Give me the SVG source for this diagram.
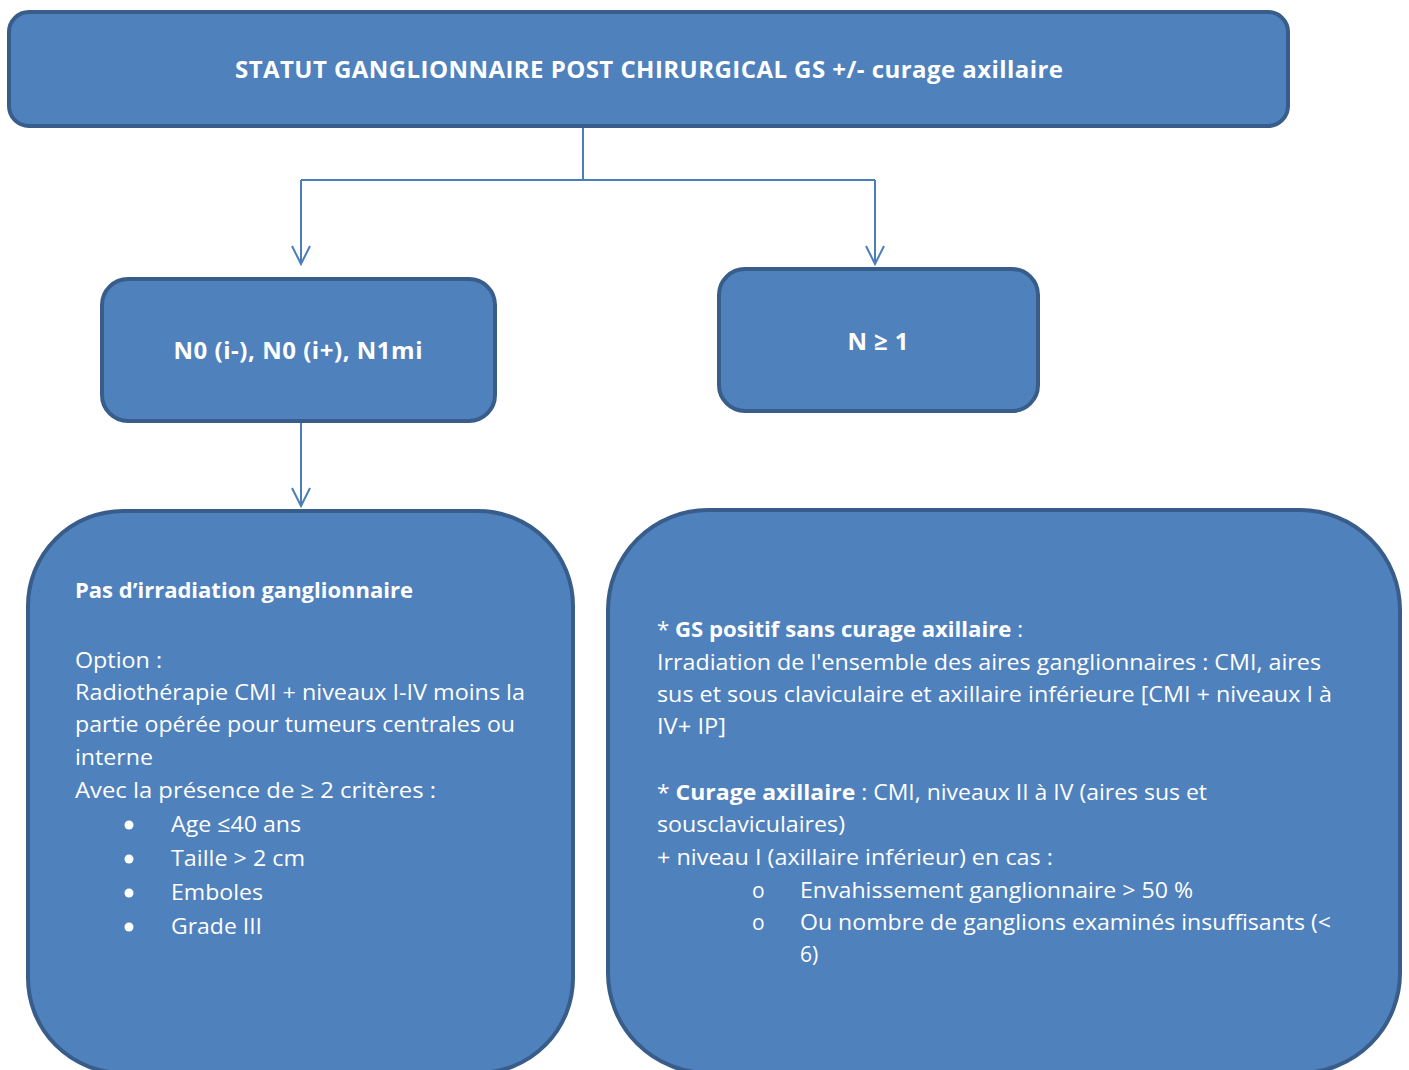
<svg xmlns="http://www.w3.org/2000/svg" width="1409" height="1070" viewBox="0 0 1409 1070">
<defs>
<style>
.box{fill:#4F81BD;stroke:#385D8A;stroke-width:4}
.t{font-family:"Open Sans","Liberation Sans",sans-serif;fill:#FFFFFF}
.b{font-weight:bold}
.c{font-size:24px;font-weight:bold;text-anchor:middle}
.l{font-size:22.5px}
.r{font-size:21px}
.con{fill:none;stroke:#4A7EBB;stroke-width:2}
</style>
</defs>
<rect width="1409" height="1070" fill="#FFFFFF"/>
<g id="connectors">
<path class="con" d="M583,127 V180 M301,180 H875 M301,180 V264 M875,180 V264 M301,422 V506"/>
<path class="con" d="M292,246 L301,264 L310,246 M866,246 L875,264 L884,246 M292,488 L301,506 L310,488"/>
</g>
<g id="node-top">
<rect class="box" x="9" y="12" width="1279" height="114" rx="20"/>
<text class="t c" x="649" y="78" textLength="828">STATUT GANGLIONNAIRE POST CHIRURGICAL GS +/- curage axillaire</text>
</g>
<g id="node-n0">
<rect class="box" x="102" y="279" width="393" height="142" rx="26"/>
<text class="t c" x="298" y="359" textLength="249">N0 (i-), N0 (i+), N1mi</text>
</g>
<g id="node-n1">
<rect class="box" x="719" y="269" width="319" height="142" rx="26"/>
<text class="t c" x="878" y="350" textLength="61">N ≥ 1</text>
</g>
<g id="node-left">
<rect class="box" x="28" y="511" width="545" height="562" rx="95"/>
<text class="t b" x="75" y="598" font-size="21" textLength="338" lengthAdjust="spacingAndGlyphs">Pas d’irradiation ganglionnaire</text>
<text class="t l" x="75" y="668" textLength="87" lengthAdjust="spacingAndGlyphs">Option :</text>
<text class="t l" x="75" y="700" textLength="450" lengthAdjust="spacingAndGlyphs">Radiothérapie CMI + niveaux I-IV moins la</text>
<text class="t l" x="75" y="732" textLength="440" lengthAdjust="spacingAndGlyphs">partie opérée pour tumeurs centrales ou</text>
<text class="t l" x="75" y="765" textLength="78" lengthAdjust="spacingAndGlyphs">interne</text>
<text class="t l" x="75" y="798" textLength="361" lengthAdjust="spacingAndGlyphs">Avec la présence de ≥ 2 critères  :</text>
<circle cx="129" cy="825" r="4.5" fill="#FFFFFF"/>
<circle cx="129" cy="859" r="4.5" fill="#FFFFFF"/>
<circle cx="129" cy="893" r="4.5" fill="#FFFFFF"/>
<circle cx="129" cy="927" r="4.5" fill="#FFFFFF"/>
<text class="t l" x="171" y="832" textLength="130" lengthAdjust="spacingAndGlyphs">Age ≤40 ans</text>
<text class="t l" x="171" y="866" textLength="134" lengthAdjust="spacingAndGlyphs">Taille &gt; 2 cm</text>
<text class="t l" x="171" y="900" textLength="92" lengthAdjust="spacingAndGlyphs">Emboles</text>
<text class="t l" x="171" y="934" textLength="91" lengthAdjust="spacingAndGlyphs">Grade III</text>
</g>
<g id="node-right">
<rect class="box" x="608" y="510" width="792" height="563" rx="100"/>
<text class="t r" x="657" y="637" textLength="366" lengthAdjust="spacingAndGlyphs">* <tspan class="b">GS positif sans curage axillaire</tspan> :</text>
<text class="t r" x="657" y="670" textLength="664" lengthAdjust="spacingAndGlyphs">Irradiation de l'ensemble des aires ganglionnaires : CMI, aires</text>
<text class="t r" x="657" y="702" textLength="675" lengthAdjust="spacingAndGlyphs">sus et sous claviculaire et axillaire inférieure [CMI + niveaux I à</text>
<text class="t r" x="657" y="734" textLength="69" lengthAdjust="spacingAndGlyphs">IV+ IP]</text>
<text class="t r" x="657" y="800" textLength="550" lengthAdjust="spacingAndGlyphs">* <tspan class="b">Curage axillaire</tspan> : CMI, niveaux II à IV (aires sus et</text>
<text class="t r" x="657" y="832" textLength="188" lengthAdjust="spacingAndGlyphs">sousclaviculaires)</text>
<text class="t r" x="657" y="865" textLength="396" lengthAdjust="spacingAndGlyphs">+ niveau I (axillaire inférieur) en cas :</text>
<text class="t r" x="752" y="898">o</text>
<text class="t r" x="752" y="930">o</text>
<text class="t r" x="800" y="898" textLength="393" lengthAdjust="spacingAndGlyphs">Envahissement ganglionnaire &gt; 50 %</text>
<text class="t r" x="800" y="930" textLength="531" lengthAdjust="spacingAndGlyphs">Ou nombre de ganglions examinés insuffisants (&lt;</text>
<text class="t r" x="800" y="962">6)</text>
</g>
</svg>
